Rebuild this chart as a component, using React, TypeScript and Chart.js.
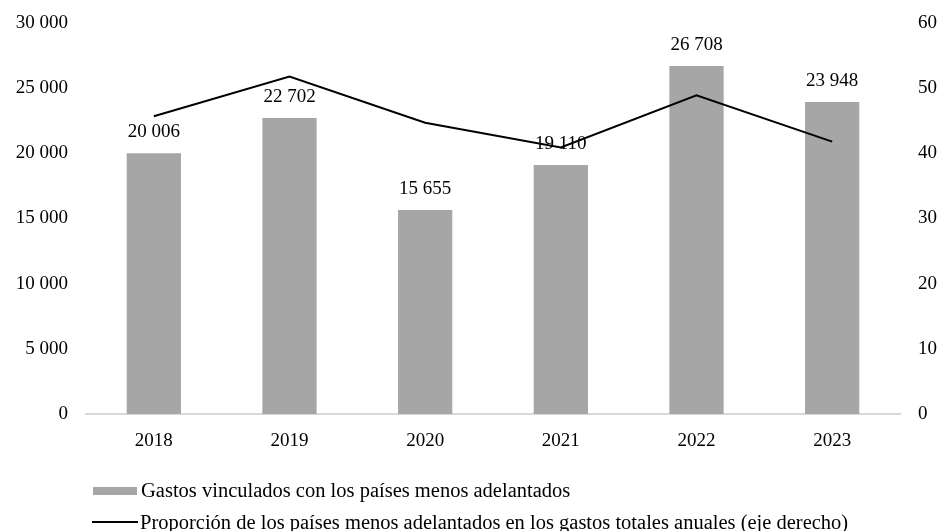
import React, { useEffect, useRef } from "react";
import { Chart, registerables } from "chart.js";

Chart.register(...registerables);

const categories = ["2018", "2019", "2020", "2021", "2022", "2023"];
const gastosValues = [20006, 22702, 15655, 19110, 26708, 23948];
const proporcionValues = [45.7, 51.8, 44.7, 40.9, 48.9, 41.8];
const barLabel = "Gastos vinculados con los países menos adelantados";
const lineLabel = "Proporción de los países menos adelantados en los gastos totales anuales (eje derecho)";

const FONT = "'Liberation Serif', 'Times New Roman', serif";
const FONT_SIZE = 19;
const LEGEND_FONT_SIZE = 20.5;
const BAR_COLOR = "#a6a6a6";

const fmt = (v: number) => {
  const s = Math.round(v).toString();
  return s.replace(/\B(?=(\d{3})+(?!\d))/g, " ");
};

const valueLabelPlugin = {
  id: "valueLabels",
  afterDatasetsDraw(chart: any) {
    const ctx = chart.ctx;
    const meta = chart.getDatasetMeta(0);
    ctx.save();
    ctx.font = `${FONT_SIZE}px ${FONT}`;
    ctx.fillStyle = "#000";
    ctx.textAlign = "center";
    ctx.textBaseline = "middle";
    meta.data.forEach((el: any, i: number) => {
      ctx.fillText(fmt(gastosValues[i]), el.x, el.y - 21);
    });
    ctx.restore();
  },
};

const legendPlugin = {
  id: "customLegend",
  afterDraw(chart: any) {
    const ctx = chart.ctx;
    const left = 93;
    ctx.save();
    ctx.font = `${LEGEND_FONT_SIZE}px ${FONT}`;
    ctx.fillStyle = BAR_COLOR;
    ctx.fillRect(left, 487, 44, 8);
    ctx.strokeStyle = "#000";
    ctx.lineWidth = 2;
    ctx.beginPath();
    ctx.moveTo(left - 1, 522);
    ctx.lineTo(left + 45, 522);
    ctx.stroke();
    ctx.fillStyle = "#000";
    ctx.textAlign = "left";
    ctx.textBaseline = "alphabetic";
    ctx.fillText(barLabel, 141, 497);
    ctx.fillText(lineLabel, 140, 529);
    ctx.restore();
  },
};

export default function App() {
  const ref = useRef<HTMLCanvasElement | null>(null);
  useEffect(() => {
    if (!ref.current) return;
    const chart = new Chart(ref.current, {
      type: "bar",
      data: {
        labels: categories,
        datasets: [
          {
            type: "bar",
            label: barLabel,
            data: gastosValues,
            backgroundColor: BAR_COLOR,
            barPercentage: 0.4,
            categoryPercentage: 1,
            yAxisID: "y",
            order: 2,
          },
          {
            type: "line",
            label: lineLabel,
            data: proporcionValues,
            borderColor: "#000",
            borderWidth: 2,
            pointRadius: 0,
            tension: 0,
            fill: false,
            yAxisID: "y1",
            order: 1,
          } as any,
        ],
      },
      options: {
        animation: false,
        responsive: true,
        maintainAspectRatio: false,
        layout: { padding: { top: 0, bottom: 77, left: 0, right: 0 } },
        plugins: {
          legend: { display: false },
          tooltip: { enabled: false },
        },
        scales: {
          x: {
            grid: { display: false, drawTicks: false },
            border: { display: true, color: "#d9d9d9", width: 2 },
            ticks: {
              color: "#000",
              font: { family: FONT, size: FONT_SIZE },
              padding: 16,
            },
            afterFit: (s: any) => {
              s.height = 40;
              s.paddingLeft = 0;
              s.paddingRight = 0;
            },
          },
          y: {
            position: "left",
            min: 0,
            max: 30000,
            grid: { display: false, drawTicks: false },
            border: { display: false },
            ticks: {
              stepSize: 5000,
              color: "#000",
              font: { family: FONT, size: FONT_SIZE },
              padding: 18,
              callback: (v: any) => fmt(Number(v)),
            },
            afterFit: (s: any) => {
              s.width = 86;
              s.paddingTop = 23;
              s.paddingBottom = 0;
            },
          },
          y1: {
            position: "right",
            min: 0,
            max: 60,
            grid: { display: false, drawTicks: false },
            border: { display: false },
            ticks: {
              stepSize: 10,
              color: "#000",
              font: { family: FONT, size: FONT_SIZE },
              padding: 18,
            },
            afterFit: (s: any) => {
              s.width = 40;
              s.paddingTop = 23;
              s.paddingBottom = 0;
            },
          },
        },
      },
      plugins: [valueLabelPlugin, legendPlugin],
    });
    return () => chart.destroy();
  }, []);
  return (
    <div style={{ position: "fixed", left: 0, top: 0, width: 940, height: 531 }}>
      <canvas ref={ref} />
    </div>
  );
}
